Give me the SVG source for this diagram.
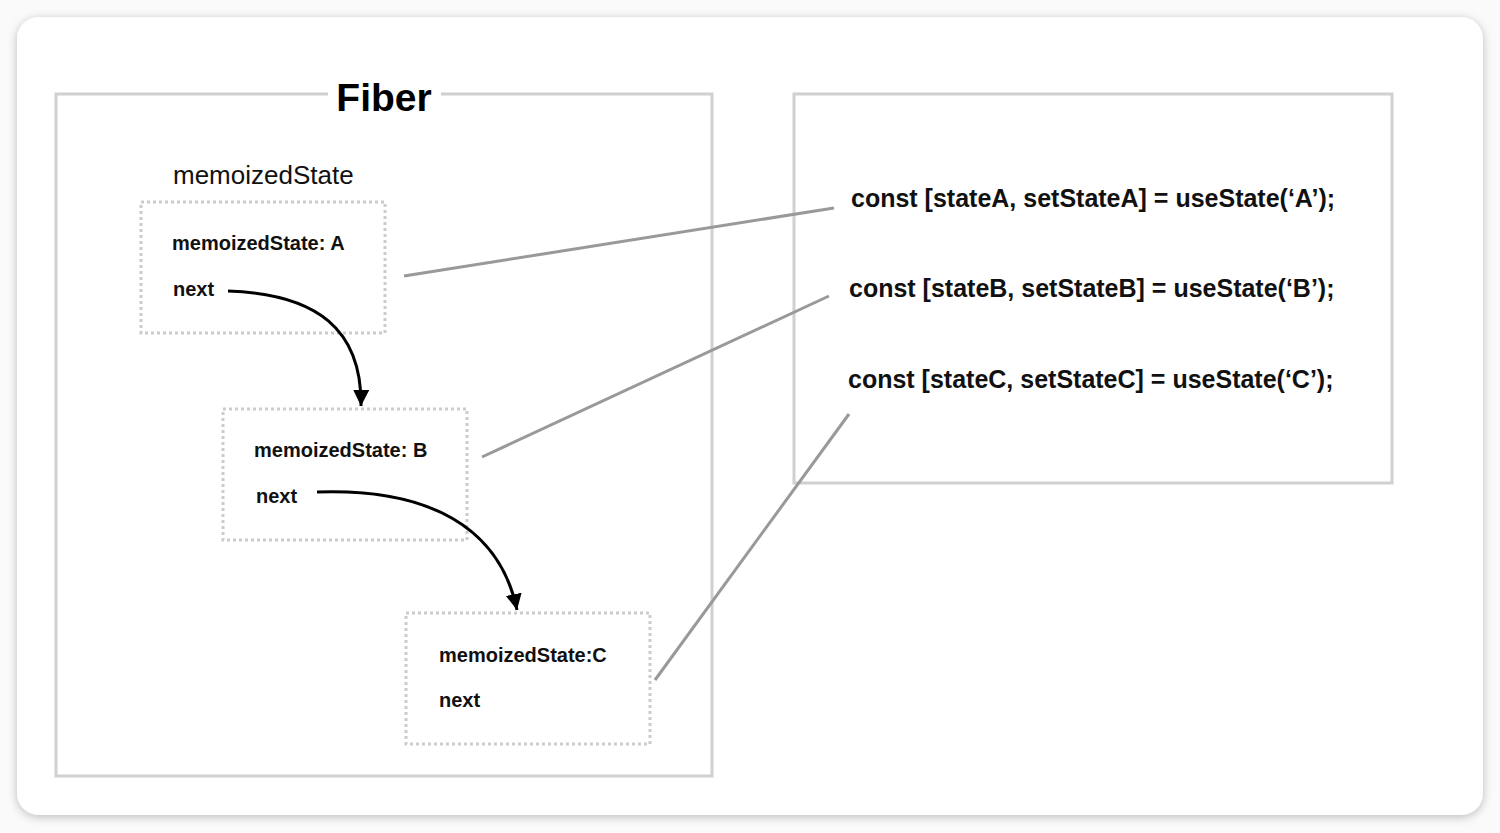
<svg xmlns="http://www.w3.org/2000/svg" width="1500" height="833" viewBox="0 0 1500 833">
<style>
.frame{fill:none;stroke:#d0d0d0;stroke-width:3}
.dot{fill:none;stroke:#cccccc;stroke-width:3;stroke-dasharray:3 3}
.lbl{font-family:"Liberation Sans",Arial,sans-serif;font-weight:bold;font-size:20px;fill:#111}
.code{font-family:"Liberation Sans",Arial,sans-serif;font-weight:bold;font-size:25px;fill:#111}
.link{stroke:#999;stroke-width:3;fill:none}
.arr{stroke:#000;stroke-width:3;fill:none}
</style>
<defs>
<filter id="sh" x="-5%" y="-5%" width="110%" height="110%">
<feDropShadow dx="0" dy="2" stdDeviation="5" flood-color="#000" flood-opacity="0.25"/>
</filter>
<marker id="ah" markerUnits="userSpaceOnUse" markerWidth="20" markerHeight="20" refX="16" refY="8" orient="auto">
<path d="M0,0 L16,8 L0,16 Z" fill="#000"/>
</marker>
</defs>
<rect width="1500" height="833" fill="#fafafa"/>
<rect x="17" y="17" width="1466" height="798" rx="22" fill="#fff" filter="url(#sh)"/>
<g id="fiber">
<path class="frame" d="M328,94 H56 V776 H712 V94 H441"/>
<text x="384" y="111" text-anchor="middle" font-family="Liberation Sans,Arial,sans-serif" font-weight="bold" font-size="39" fill="#000">Fiber</text>
<text x="173" y="184" font-family="Liberation Sans,Arial,sans-serif" font-size="26" fill="#111">memoizedState</text>
</g>
<g id="hooks">
<rect class="frame" x="794" y="94" width="598" height="389"/>
<text class="code" x="851" y="207">const [stateA, setStateA] = useState(‘A’);</text>
<text class="code" x="849" y="297">const [stateB, setStateB] = useState(‘B’);</text>
<text class="code" x="848" y="388">const [stateC, setStateC] = useState(‘C’);</text>
</g>
<g id="nodeA">
<rect class="dot" x="141" y="202" width="244" height="131"/>
<text class="lbl" x="172" y="250">memoizedState: A</text>
<text class="lbl" x="173" y="296">next</text>
</g>
<g id="nodeB">
<rect class="dot" x="223" y="409" width="244" height="131"/>
<text class="lbl" x="254" y="457">memoizedState: B</text>
<text class="lbl" x="256" y="503">next</text>
</g>
<g id="nodeC">
<rect class="dot" x="406" y="613" width="244" height="131"/>
<text class="lbl" x="439" y="662">memoizedState:C</text>
<text class="lbl" x="439" y="707">next</text>
</g>
<g id="connectors">
<path class="arr" d="M228,291 C318,294 362,330 361,406" marker-end="url(#ah)"/>
<path class="arr" d="M317,492 C430,488 500,528 517,610" marker-end="url(#ah)"/>
<line class="link" x1="404" y1="276" x2="834" y2="208"/>
<line class="link" x1="482" y1="457" x2="829" y2="296"/>
<line class="link" x1="655" y1="680" x2="849" y2="414"/>
</g>
</svg>
